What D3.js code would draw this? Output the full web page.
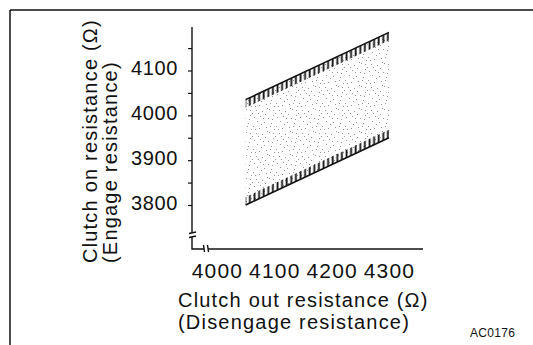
<!DOCTYPE html>
<html>
<head>
<meta charset="utf-8">
<script src="https://cdn.jsdelivr.net/npm/d3@7"></script>
<style>
  html, body { margin: 0; padding: 0; background: #fff; }
  svg { display: block; }
  text { font-family: "Liberation Sans", Arial, sans-serif; fill: #111; }
</style>
</head>
<body>
<svg id="chart" width="533" height="345"></svg>
<script>
// ---- data ----
const bandOut   = [4050, 4300];          // clutch out (disengage) resistance range
const upperOn   = [4035, 4185];          // upper limit of clutch on resistance
const lowerOn   = [3800, 3950];          // lower limit of clutch on resistance
const xTicks    = [4000, 4100, 4200, 4300];
const yMinor    = [3800, 3850, 3900, 3950, 4000, 4050, 4100, 4150];
const yLabels   = [3800, 3900, 4000, 4100];
const xTitle    = ["Clutch out resistance (\u03A9)", "(Disengage resistance)"];
const yTitle    = ["Clutch on resistance (\u03A9)", "(Engage resistance)"];
const figCode   = "AC0176";

// ---- layout ----
const svg = d3.select("#chart");
const ink = "#111";
const axisX = 192, axisY = 249, axisTop = 27, axisRight = 423;

const x = d3.scaleLinear().domain([4000, 4300]).range([217, 389]);
const y = d3.scaleLinear().domain([3800, 4100]).range([205, 70.5]);

const defs = svg.append("defs");
// stipple texture (irregular light dots)
const st = defs.append("pattern").attr("id", "stipple")
  .attr("patternUnits", "userSpaceOnUse").attr("width", 23).attr("height", 23);
const dots = [[1,2],[7,1],[15,3],[20,0],[4,6],[11,7],[18,8],[0,11],[6,13],[13,12],
              [21,14],[3,18],[9,19],[16,17],[22,21],[12,22],[19,4],[8,9],[14,16],[2,14],
              [17,11],[10,3],[5,21],[20,18]];
st.selectAll("rect").data(dots).join("rect")
  .attr("x", d => d[0]).attr("y", d => d[1]).attr("width", 1).attr("height", 1)
  .attr("fill", "#959595");
// hatch texture
const ht = defs.append("pattern").attr("id", "hatch")
  .attr("patternUnits", "userSpaceOnUse").attr("width", 4.6).attr("height", 40);
ht.append("rect").attr("x", 0.6).attr("y", 0).attr("width", 1.8).attr("height", 40).attr("fill", ink);

// border
svg.append("line").attr("x1", 10).attr("y1", 10).attr("x2", 533).attr("y2", 10)
  .attr("stroke", ink).attr("stroke-width", 1.5);
svg.append("line").attr("x1", 10).attr("y1", 10).attr("x2", 10).attr("y2", 345)
  .attr("stroke", ink).attr("stroke-width", 1.5);

// band data
const band = bandOut.map((v, i) => ({ out: v, lo: lowerOn[i], hi: upperOn[i] }));

svg.append("path").datum(band)
  .attr("d", d3.area().x(d => x(d.out)).y0(d => y(d.lo)).y1(d => y(d.hi)))
  .attr("fill", "url(#stipple)");

const hatchLen = 8;
svg.append("path").datum(band)
  .attr("d", d3.area().x(d => x(d.out)).y0(d => y(d.hi) + hatchLen).y1(d => y(d.hi)))
  .attr("fill", "url(#hatch)");
svg.append("path").datum(band)
  .attr("d", d3.area().x(d => x(d.out)).y0(d => y(d.lo)).y1(d => y(d.lo) - hatchLen))
  .attr("fill", "url(#hatch)");
svg.append("path").datum(band)
  .attr("d", d3.line().x(d => x(d.out)).y(d => y(d.hi)))
  .attr("fill", "none").attr("stroke", ink).attr("stroke-width", 1.6);
svg.append("path").datum(band)
  .attr("d", d3.line().x(d => x(d.out)).y(d => y(d.lo)))
  .attr("fill", "none").attr("stroke", ink).attr("stroke-width", 1.6);

// y axis (ticks + labels)
const yAxis = d3.axisLeft(y).tickValues(yMinor).tickSize(4).tickPadding(10)
  .tickFormat(d => yLabels.includes(d) ? d3.format("d")(d) : "");
const gy = svg.append("g").attr("transform", `translate(${axisX},0)`).call(yAxis);
gy.select(".domain").remove();
gy.selectAll(".tick line").attr("stroke", ink).attr("stroke-width", 1.2);
gy.selectAll(".tick text").attr("font-size", 20).attr("letter-spacing", "0.6px")
  .attr("font-family", "Liberation Sans, Arial, sans-serif").attr("fill", ink)
  .attr("dy", "0.2em");

// axis lines with breaks
const brkY = 233;
const axisPath = [
  [[axisX, axisTop], [axisX, brkY]],
  [[axisX, brkY + 4], [axisX, axisY], [204, axisY]],
  [[208, axisY], [axisRight, axisY]],
  [[axisX - 3, brkY + 0.5], [axisX + 4, brkY - 1]],
  [[axisX - 3, brkY + 4.5], [axisX + 4, brkY + 3]],
  [[203.5, axisY - 4], [204.5, axisY + 3]],
  [[207.5, axisY - 4], [208.5, axisY + 3]]
];
svg.selectAll("path.axis").data(axisPath).join("path").attr("class", "axis")
  .attr("d", d3.line()).attr("fill", "none").attr("stroke", ink).attr("stroke-width", 1.4);

// x axis labels
const xAxis = d3.axisBottom(x).tickValues(xTicks).tickSize(0).tickPadding(14)
  .tickFormat(d3.format("d"));
const gx = svg.append("g").attr("transform", `translate(0,${axisY})`).call(xAxis);
gx.select(".domain").remove();
gx.selectAll(".tick text").attr("font-size", 21).attr("letter-spacing", "1.2px")
  .attr("font-family", "Liberation Sans, Arial, sans-serif").attr("fill", ink);

// x title
svg.selectAll("text.xt").data(xTitle).join("text").attr("class", "xt")
  .attr("x", 178).attr("y", (d, i) => 307 + i * 22)
  .attr("font-size", 20).attr("letter-spacing", "1.2px")
  .text(d => d);

// y title
svg.selectAll("text.yt").data(yTitle).join("text").attr("class", "yt")
  .attr("transform", (d, i) => `translate(${97 + i * 20},263) rotate(-90)`)
  .attr("font-size", 20).attr("letter-spacing", "1.2px")
  .text(d => d);

// figure code
svg.append("text").attr("x", 470).attr("y", 337).attr("font-size", 12)
  .attr("letter-spacing", "0.3px").text(figCode);
</script>
</body>
</html>
